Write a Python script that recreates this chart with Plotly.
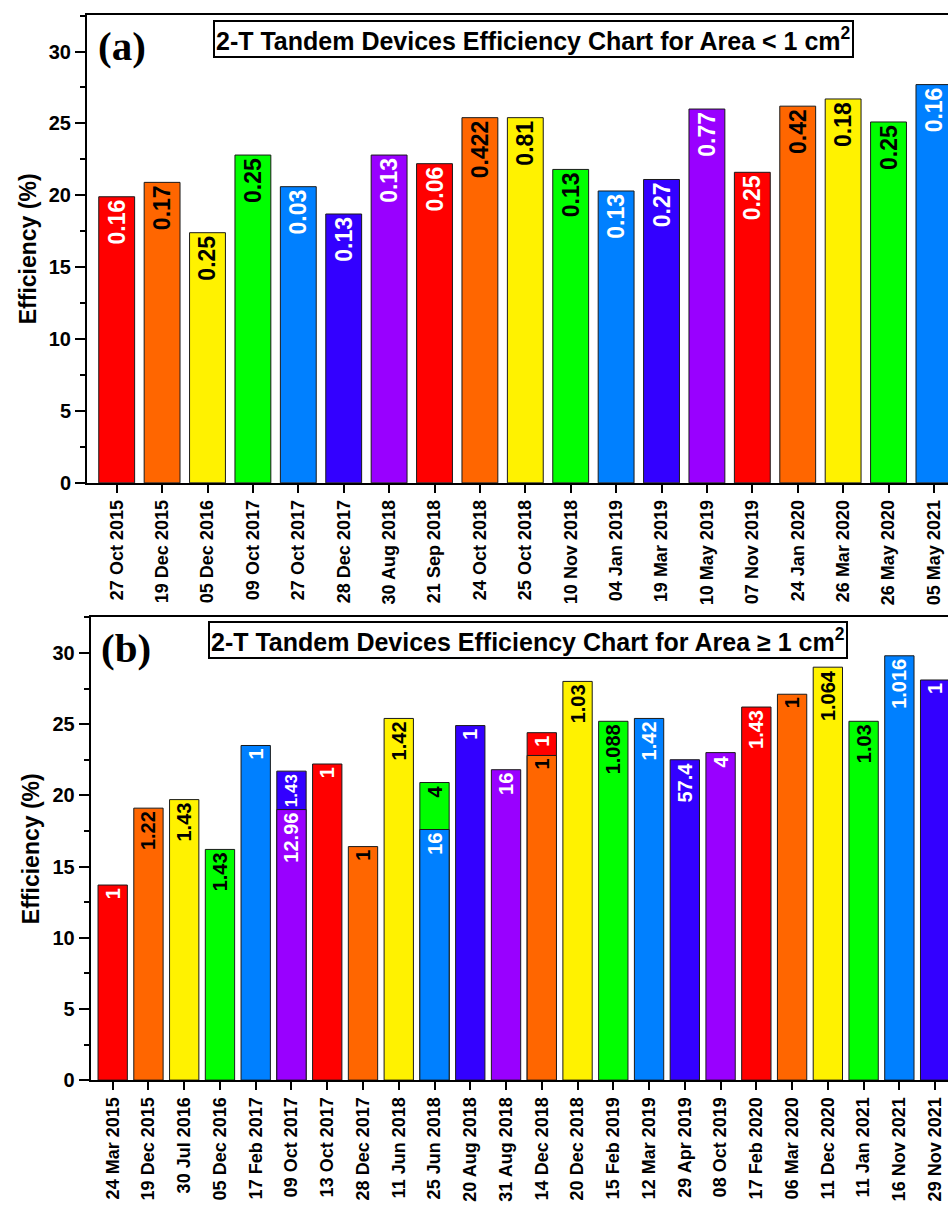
import plotly.graph_objects as go

# ---- Panel (a): devices with area < 1 cm2 ----
dates_a = ["27 Oct 2015", "19 Dec 2015", "05 Dec 2016", "09 Oct 2017", "27 Oct 2017",
           "28 Dec 2017", "30 Aug 2018", "21 Sep 2018", "24 Oct 2018", "25 Oct 2018",
           "10 Nov 2018", "04 Jan 2019", "19 Mar 2019", "10 May 2019", "07 Nov 2019",
           "24 Jan 2020", "26 Mar 2020", "26 May 2020", "05 May 2021"]
eff_a = [19.9, 20.9, 17.4, 22.8, 20.6, 18.7, 22.8, 22.2, 25.4, 25.4,
         21.8, 20.3, 21.1, 26.0, 21.6, 26.2, 26.7, 25.1, 27.7]
area_a = ["0.16", "0.17", "0.25", "0.25", "0.03", "0.13", "0.13", "0.06", "0.422", "0.81",
          "0.13", "0.13", "0.27", "0.77", "0.25", "0.42", "0.18", "0.25", "0.16"]

# ---- Panel (b): devices with area >= 1 cm2 ----
dates_b = ["24 Mar 2015", "19 Dec 2015", "30 Jul 2016", "05 Dec 2016", "17 Feb 2017",
           "09 Oct 2017", "13 Oct 2017", "28 Dec 2017", "11 Jun 2018", "25 Jun 2018",
           "20 Aug 2018", "31 Aug 2018", "14 Dec 2018", "20 Dec 2018", "15 Feb 2019",
           "12 Mar 2019", "29 Apr 2019", "08 Oct 2019", "17 Feb 2020", "06 Mar 2020",
           "11 Dec 2020", "11 Jan 2021", "16 Nov 2021", "29 Nov 2021"]
eff_b = [13.7, 19.1, 19.7, 16.2, 23.5, 21.7, 22.2, 16.4, 25.4, 20.9,
         24.9, 21.8, 24.4, 28.0, 25.2, 25.4, 22.5, 23.0, 26.2, 27.1,
         29.0, 25.2, 29.8, 28.1]
area_b = ["1", "1.22", "1.43", "1.43", "1", "1.43", "1", "1", "1.42", "4",
          "1", "16", "1", "1.03", "1.088", "1.42", "57.4", "4", "1.43", "1",
          "1.064", "1.03", "1.016", "1"]
# second (lower-efficiency) device reported on the same date
dates_b2 = ["09 Oct 2017", "25 Jun 2018", "14 Dec 2018"]
eff_b2 = [19.0, 17.6, 22.8]
area_b2 = ["12.96", "16", "1"]

# ---- styling ----
RED, ORANGE, YELLOW, GREEN = "#FF0000", "#FF6600", "#FFF200", "#00FF00"
BLUE, INDIGO, PURPLE = "#0080FF", "#3300FF", "#9900FF"
LABEL_ON = {RED: "white", ORANGE: "black", YELLOW: "black", GREEN: "black",
            BLUE: "white", INDIGO: "white", PURPLE: "white"}

rainbow = [RED, ORANGE, YELLOW, GREEN, BLUE, INDIGO, PURPLE]
colors_a = [rainbow[i % 7] for i in range(len(dates_a))]
colors_b = [RED, ORANGE, YELLOW, GREEN, BLUE, INDIGO, RED, ORANGE, YELLOW, GREEN,
            INDIGO, PURPLE, RED, YELLOW, GREEN, BLUE, INDIGO, PURPLE, RED, ORANGE,
            YELLOW, GREEN, BLUE, INDIGO]
colors_b2 = [PURPLE, BLUE, ORANGE]

# label sizes; the short upper segment on 09 Oct 2017 gets a smaller label
label_size_b = [20] * len(dates_b)
label_size_b[dates_b.index("09 Oct 2017")] = 17

SANS = "Liberation Sans, Arial, sans-serif"
SERIF = "Liberation Serif, Times New Roman, serif"
W, H = 948, 1212

fig = go.Figure()


def bars(x, y, text, colors, xa, ya, width, size):
    return go.Bar(
        x=x, y=y, text=text, xaxis=xa, yaxis=ya, width=width,
        marker=dict(color=colors, line=dict(color="#1a1a1a", width=1)),
        textposition="inside", insidetextanchor="end", textangle=-90,
        textfont=dict(family=SANS, size=size, weight="bold",
                      color=[LABEL_ON.get(c, "black") for c in colors]),
        cliponaxis=True, showlegend=False, hoverinfo="x+y",
    )


fig.add_trace(bars(dates_a, eff_a, area_a, colors_a, "x", "y", 0.79, 23))
fig.add_trace(bars(dates_b, eff_b, area_b, colors_b, "x2", "y2", 0.82, label_size_b))
fig.add_trace(bars(dates_b2, eff_b2, area_b2, colors_b2, "x2", "y2", 0.82, 20))

axis_common = dict(
    showline=True, linecolor="black", linewidth=2, showgrid=False, zeroline=False,
    ticks="outside", tickcolor="black", tickwidth=2,
    tickfont=dict(family=SANS, size=20, color="black", weight="bold"),
)
xtickfont = dict(family=SANS, size=18, color="black", weight="bold")
ytitlefont = dict(family=SANS, size=23, color="black", weight="bold")
minor_ticks = dict(dtick=2.5, ticks="outside", ticklen=5, tickwidth=2, tickcolor="black")


def px_x(p):
    return p / W


def px_y(p):
    return 1 - p / H


fig.update_layout(
    width=W, height=H, margin=dict(l=0, r=0, t=0, b=0),
    paper_bgcolor="white", plot_bgcolor="white",
    barmode="overlay", showlegend=False,
    xaxis=dict(axis_common, domain=[px_x(87), 1], range=[-0.654, 18.31],
               type="category", tickangle=-90, ticklen=8, mirror=True,
               tickfont=xtickfont, anchor="y"),
    yaxis=dict(axis_common, domain=[px_y(487.3), px_y(15)], range=[0, 32.55],
               dtick=5, ticklen=10, anchor="x", minor=minor_ticks,
               title=dict(text="Efficiency (%)", standoff=6, font=ytitlefont)),
    xaxis2=dict(axis_common, domain=[px_x(90.7), 1], range=[-0.615, 23.36],
                type="category", tickangle=-90, ticklen=8, mirror=True,
                tickfont=xtickfont, anchor="y2"),
    yaxis2=dict(axis_common, domain=[px_y(1090), px_y(623)], range=[0, 32.5],
                dtick=5, ticklen=10, anchor="x2", minor=minor_ticks,
                title=dict(text="Efficiency (%)", standoff=6, font=ytitlefont)),
)

# panel letters
for letter, cx, cy in [("(a)", 122, 46), ("(b)", 126, 654)]:
    fig.add_annotation(text="<b>" + letter + "</b>", xref="paper", yref="paper",
                       x=px_x(cx), y=px_y(cy), xanchor="center", yanchor="middle",
                       showarrow=False, font=dict(family=SERIF, size=41, color="black"))

# boxed chart titles
for title, cx, cy in [
    ("2-T Tandem Devices Efficiency Chart for Area &lt; 1 cm<sup>2</sup>", 533, 39),
    ("2-T Tandem Devices Efficiency Chart for Area ≥ 1 cm<sup>2</sup>", 528, 646),
]:
    fig.add_annotation(text="<b>" + title + "</b>", xref="paper", yref="paper",
                       x=px_x(cx), y=px_y(cy), xanchor="center", yanchor="middle",
                       showarrow=False, font=dict(family=SANS, size=25, color="black"),
                       bordercolor="black", borderwidth=2, borderpad=1,
                       bgcolor="white")

fig.write_html("out.html")
